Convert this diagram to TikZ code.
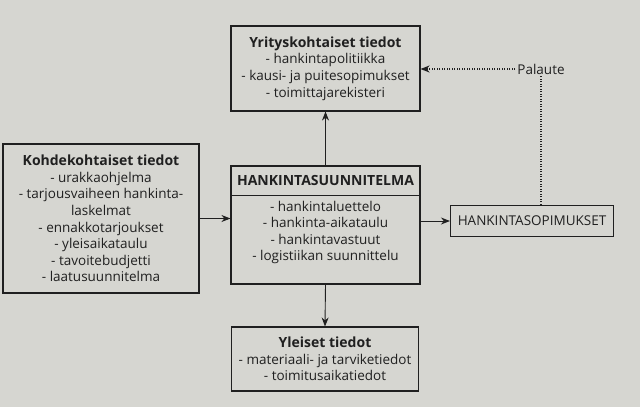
\documentclass[tikz,border=0pt]{standalone}
\usepackage{fontspec}
\setmainfont{Open Sans}
\usetikzlibrary{arrows.meta,calc}
\definecolor{paper}{RGB}{214,214,209}
\definecolor{ink}{RGB}{32,32,32}
\newcommand{\itemfont}{\fontsize{13.5}{16.6}\selectfont}
\newcommand{\titlefont}{\fontsize{14}{16.6}\selectfont\bfseries}
\begin{document}
\begin{tikzpicture}[x=1pt,y=-1pt,
  boxnode/.style={draw=ink,line width=1.1pt,fill=paper,inner sep=0pt,align=center,text=ink,
     font=\itemfont},
  conn/.style={draw=ink,line width=0.9pt,-{Stealth[length=9pt,width=7pt]}},
  dotconn/.style={draw=ink,line width=1.2pt,dash pattern=on 1.2pt off 1.3pt}
]
\fill[paper] (0,0) rectangle (640,407);
\useasboundingbox (0,0) rectangle (640,407);

\node[boxnode,minimum width=189pt,minimum height=85pt] (yrit) at (325.5,68.5)
  {{\titlefont Yrityskohtaiset tiedot}\\- hankintapolitiikka\\- kausi- ja puitesopimukset\\- toimittajarekisteri};

\node[boxnode,minimum width=189pt,minimum height=118pt] (hank) at (325.5,225) {};
\draw[ink,line width=1.1pt] ([yshift=-30pt]hank.north west) -- ([yshift=-30pt]hank.north east);
\node[text=ink,font=\titlefont,anchor=center] (hanktitle) at ([yshift=-15pt]hank.north) {HANKINTASUUNNITELMA};
\node[text=ink,align=center,font=\itemfont] (hankitems) at ([yshift=-67pt]hank.north)
  {- hankintaluettelo\\- hankinta-aikataulu\\- hankintavastuut\\- logistiikan suunnittelu};

\node[boxnode,minimum width=196pt,minimum height=149pt] (kohde) at (101,218.5)
  {{\titlefont Kohdekohtaiset tiedot}\\- urakkaohjelma\\- tarjousvaiheen hankinta-\\laskelmat\\- ennakkotarjoukset\\- yleisaikataulu\\- tavoitebudjetti\\- laatusuunnitelma};

\node[boxnode,minimum width=163pt,minimum height=31pt] (sop) at (532,221)
  {HANKINTASOPIMUKSET};

\node[boxnode,minimum width=187pt,minimum height=64pt] (yle) at (325,359)
  {{\titlefont Yleiset tiedot}\\- materiaali- ja tarviketiedot\\- toimitusaikatiedot};

\node[text=ink,font=\itemfont,inner sep=2pt] (pal) at (541,69) {Palaute};

\draw[conn] (hank.north) -- (yrit.south);
\draw[conn] (hank.south) -- (yle.north);
\draw[conn] (kohde.east) -- (kohde.east -| hank.west);
\draw[conn] (hank.east |- sop.west) -- (sop.west);
\draw[dotconn] (sop.north -| pal.south) -- (pal.south);
\draw[dotconn,-{Stealth[length=9pt,width=7pt]}] (pal.west) -- (yrit.east |- pal.west);
\end{tikzpicture}
\end{document}
